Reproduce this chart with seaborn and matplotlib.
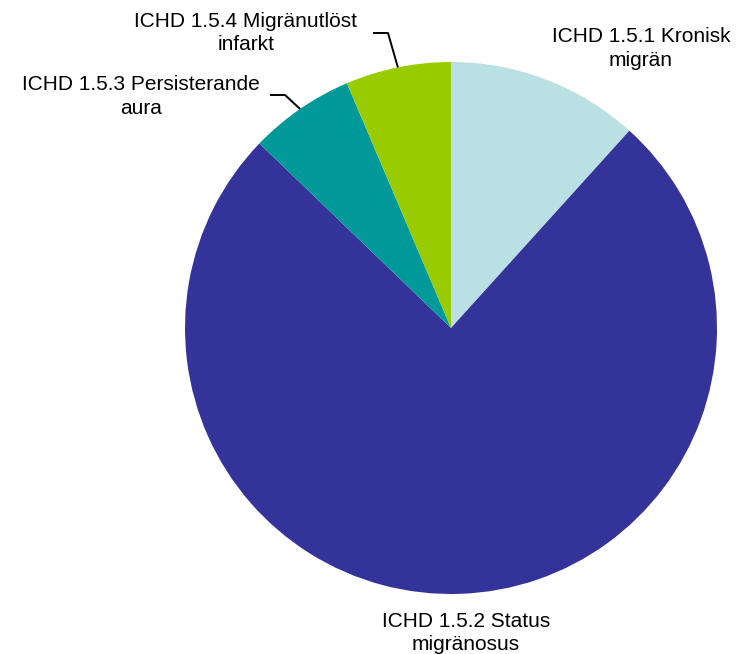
import matplotlib
matplotlib.use("Agg")
import matplotlib.pyplot as plt
import numpy as np
import seaborn as sns

sns.set_theme(style="white")
plt.rcParams['font.family'] = ['Liberation Sans', 'DejaVu Sans']

categories = ["ICHD 1.5.1 Kronisk migrän", "ICHD 1.5.2 Status migränosus",
              "ICHD 1.5.3 Persisterande aura", "ICHD 1.5.4 Migränutlöst infarkt"]
values = [11.7, 75.5, 6.4, 6.4]
label_lines = [["ICHD 1.5.1 Kronisk", "migrän"],
               ["ICHD 1.5.2 Status", "migränosus"],
               ["ICHD 1.5.3 Persisterande", "aura"],
               ["ICHD 1.5.4 Migränutlöst", "infarkt"]]
colors = ["#BBE0E3", "#333399", "#009999", "#99CC00"]

W, H = 747, 654
fig = plt.figure(figsize=(W / 100, H / 100), dpi=100)
ax = fig.add_axes([0, 0, 1, 1])
ax.set_xlim(0, W)
ax.set_ylim(0, H)
ax.axis("off")

cx, cy, R = 451, H - 328, 266
wedges, _ = ax.pie(values, colors=colors, startangle=90, counterclock=False,
                   center=(cx, cy), radius=R,
                   wedgeprops=dict(linewidth=0))
ax.set_xlim(0, W)
ax.set_ylim(0, H)
ax.set_aspect("equal")

# label placement (pixel coords, top-origin baselines)
label_pos = [(641, 42), (466, 627), (141, 90), (246, 27)]
spacing = 23.5
for (x, yb), lines in zip(label_pos, label_lines):
    for k, line in enumerate(lines):
        ax.text(x, H - (yb + k * spacing), line, ha="center", va="baseline",
                fontsize=15, color="#000000")

# leader lines for the two small slices
elbows = {2: [(270, 95), (285, 95)], 3: [(373, 33), (388, 33)]}
for i, pts in elbows.items():
    w = wedges[i]
    mid = np.deg2rad((w.theta1 + w.theta2) / 2)
    ex, ey = cx + R * np.cos(mid), cy + R * np.sin(mid)
    xs = [p[0] for p in pts] + [ex]
    ys = [H - p[1] for p in pts] + [ey]
    ax.plot(xs, ys, color="black", linewidth=1.4, solid_capstyle="butt")

fig.savefig("out.png", dpi=100)
